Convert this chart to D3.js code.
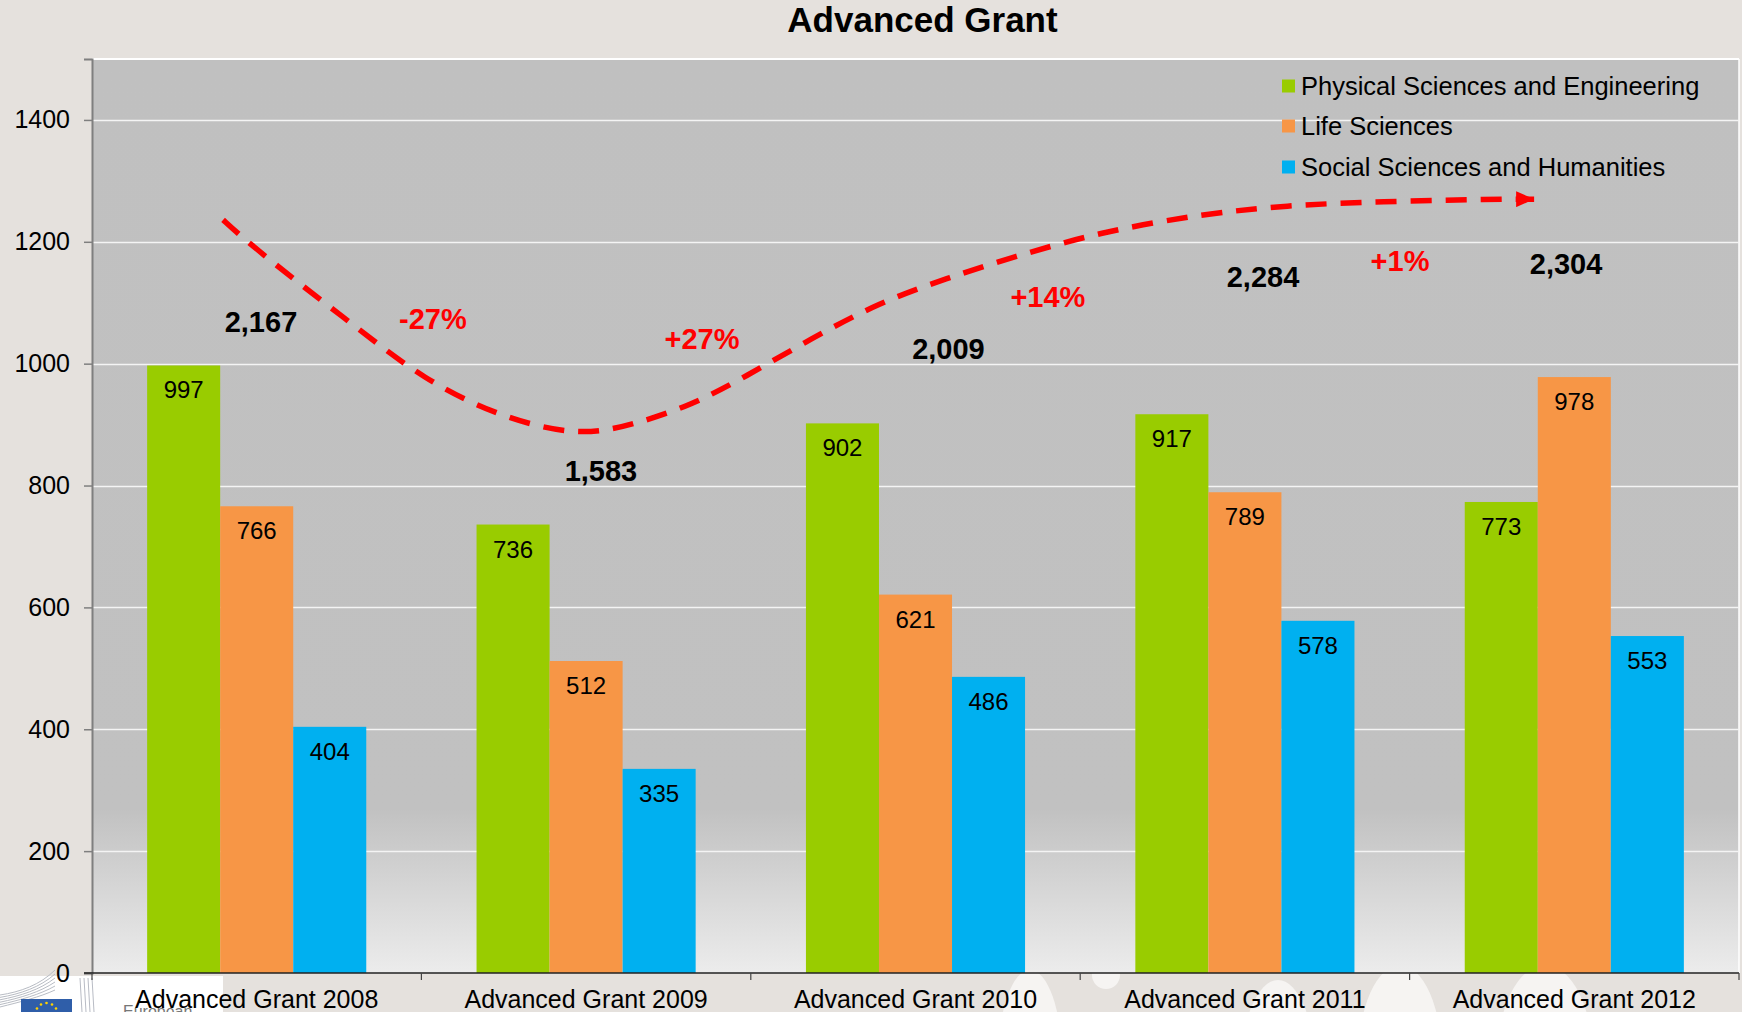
<!DOCTYPE html>
<html>
<head>
<meta charset="utf-8">
<script src="https://cdn.jsdelivr.net/npm/d3@7"></script>
<style>
  html, body { margin: 0; padding: 0; background: #e5e1dd; }
  svg { display: block; }
  text { font-family: "Liberation Sans", Arial, sans-serif; }
</style>
</head>
<body>
<script>
// ---------- data ----------
const categories = ["Advanced Grant 2008", "Advanced Grant 2009", "Advanced Grant 2010", "Advanced Grant 2011", "Advanced Grant 2012"];
const seriesNames = ["Physical Sciences and Engineering", "Life Sciences", "Social Sciences and Humanities"];
const physical = [997, 736, 902, 917, 773];
const life = [766, 512, 621, 789, 978];
const social = [404, 335, 486, 578, 553];
const totals = ["2,167", "1,583", "2,009", "2,284", "2,304"];
const changes = ["-27%", "+27%", "+14%", "+1%"];
const yTicks = [0, 200, 400, 600, 800, 1000, 1200, 1400];
const chartTitle = "Advanced Grant";

// annotation anchors in data units: [category index (fractional), value]
const totalAnchors = [[0.013, 1052], [1.045, 807], [2.10, 1008], [3.055, 1126], [3.975, 1147]];
const changeAnchors = [[0.535, 1057], [1.352, 1024], [2.402, 1093], [3.471, 1152]];
// hand-drawn trend arrow, in data units
const trendPoints = [
  [-0.102, 1236], [-0.05, 1210], [0.104, 1142], [0.314, 1055], [0.505, 975], [0.730, 914],
  [0.975, 880], [1.145, 900], [1.321, 932], [1.482, 978], [1.686, 1042],
  [1.889, 1100], [2.093, 1140], [2.296, 1175], [2.560, 1216], [2.864, 1245],
  [3.125, 1260], [3.410, 1266], [3.765, 1270], [3.85, 1270], [3.878, 1270]
];

// ---------- layout ----------
const W = 1742, H = 1012;
const mLeft = 92, mRight = 1739, mTop = 59, mBottom = 973;
const colors = ["#99cc00", "#f79646", "#00b0f0"];
const seriesValues = [physical, life, social];

const svg = d3.select("body").append("svg").attr("width", W).attr("height", H);
const defs = svg.append("defs");

const grad = defs.append("linearGradient").attr("id", "plotbg")
  .attr("x1", 0).attr("y1", 0).attr("x2", 0).attr("y2", 1);
grad.append("stop").attr("offset", 0).attr("stop-color", "#c0c0c0");
grad.append("stop").attr("offset", 0.82).attr("stop-color", "#c1c1c1");
grad.append("stop").attr("offset", 1).attr("stop-color", "#ececec");

svg.append("rect").attr("width", W).attr("height", H).attr("fill", "#e5e1dd");

// decorative light blobs below the axis
const blobs = svg.append("g").attr("fill", "#f6f4f2");
blobs.append("ellipse").attr("cx", 1030).attr("cy", 1060).attr("rx", 32).attr("ry", 90);
blobs.append("circle").attr("cx", 1106).attr("cy", 975).attr("r", 14);
blobs.append("ellipse").attr("cx", 1278).attr("cy", 1075).attr("rx", 38).attr("ry", 95);
blobs.append("ellipse").attr("cx", 1400).attr("cy", 1060).attr("rx", 42).attr("ry", 95);
blobs.append("ellipse").attr("cx", 1545).attr("cy", 1060).attr("rx", 48).attr("ry", 95);

// scales
const x0 = d3.scaleBand().domain(categories).range([mLeft, mRight]).paddingInner(0).paddingOuter(0);
const x1 = d3.scaleBand().domain(seriesNames).range([0, x0.bandwidth()]).paddingInner(0).paddingOuter(0.755);
const y = d3.scaleLinear().domain([0, 1500]).range([mBottom, mTop]);
const xi = i => x0(categories[0]) + x0.step() * (i + 0.5);

// plot area
svg.append("rect").attr("x", mLeft).attr("y", mTop).attr("width", mRight - mLeft).attr("height", mBottom - mTop)
  .attr("fill", "url(#plotbg)");
svg.append("line").attr("x1", mLeft).attr("x2", mRight).attr("y1", mTop).attr("y2", mTop)
  .attr("stroke", "#ffffff").attr("stroke-width", 2);
svg.append("line").attr("x1", mRight).attr("x2", mRight).attr("y1", mTop).attr("y2", mBottom)
  .attr("stroke", "#ffffff").attr("stroke-width", 1.5);

// gridlines
svg.append("g").selectAll("line").data(yTicks.filter(d => d > 0)).join("line")
  .attr("x1", mLeft).attr("x2", mRight)
  .attr("y1", d => Math.round(y(d)) + 0.5).attr("y2", d => Math.round(y(d)) + 0.5)
  .attr("stroke", "#f4f4f4").attr("stroke-width", 1.5);

// bars
const groups = svg.append("g").selectAll("g").data(categories).join("g")
  .attr("transform", d => `translate(${x0(d)},0)`);
groups.selectAll("rect").data((d, i) => seriesNames.map((s, k) => ({ s, k, v: seriesValues[k][i] })))
  .join("rect")
  .attr("x", d => x1(d.s)).attr("width", x1.bandwidth())
  .attr("y", d => y(d.v)).attr("height", d => y(0) - y(d.v))
  .attr("fill", d => colors[d.k]);
groups.selectAll("text").data((d, i) => seriesNames.map((s, k) => ({ s, k, v: seriesValues[k][i] })))
  .join("text")
  .attr("x", d => x1(d.s) + x1.bandwidth() / 2)
  .attr("y", d => y(d.v) + 33)
  .attr("text-anchor", "middle").attr("font-size", 24).attr("fill", "#000")
  .text(d => d.v);

// logo box (bottom-left)
const logo = svg.append("g");
logo.append("rect").attr("x", 0).attr("y", 976).attr("width", 223).attr("height", 40).attr("fill", "#ffffff");
const bl = logo.append("g").attr("fill", "none").attr("stroke", "#b8bcc4").attr("stroke-width", 1);
[0, 4, 8, 12, 16, 20].forEach(o => {
  bl.append("path").attr("d", `M0,${995 + o * 0.6} C20,${992 + o * 0.5} 40,${985 + o * 0.6} 55,${970 + o}`);
});
[80, 84, 88, 92].forEach(xx => bl.append("line").attr("x1", xx).attr("x2", xx + 2).attr("y1", 978).attr("y2", 1012));
logo.append("rect").attr("x", 21).attr("y", 999).attr("width", 51).attr("height", 20).attr("fill", "#2f5ea9");
d3.range(12).forEach(k => {
  const a = k / 12 * Math.PI * 2;
  logo.append("circle").attr("cx", 46.5 + 11 * Math.cos(a)).attr("cy", 1014 + 11 * Math.sin(a))
    .attr("r", 1.3).attr("fill", "#ffd200");
});
logo.append("text").attr("x", 123).attr("y", 1017).attr("font-size", 16).attr("fill", "#777")
  .text("European");

// y axis (drawn over the logo box, as in the original)
const yAxis = svg.append("g").attr("transform", `translate(${mLeft},0)`)
  .call(d3.axisLeft(y).tickValues(yTicks).tickSize(8).tickPadding(14).tickFormat(d3.format("d")));
yAxis.select(".domain").attr("stroke", "#7f7f7f").attr("stroke-width", 2);
yAxis.selectAll(".tick line").attr("stroke", "#7f7f7f").attr("stroke-width", 1.5);
yAxis.selectAll(".tick text").attr("font-size", 25).attr("fill", "#000")
  .attr("font-family", "Liberation Sans, Arial, sans-serif");

// x axis
const xAxis = svg.append("g").attr("transform", `translate(0,${mBottom})`);
xAxis.append("line").attr("x1", mLeft - 8).attr("x2", mRight).attr("y1", 0).attr("y2", 0)
  .attr("stroke", "#222").attr("stroke-width", 1.5);
xAxis.selectAll("line.tk").data(d3.range(categories.length + 1)).join("line").attr("class", "tk")
  .attr("x1", i => x0(categories[0]) + x0.step() * i).attr("x2", i => x0(categories[0]) + x0.step() * i)
  .attr("y1", 0).attr("y2", 7).attr("stroke", "#444").attr("stroke-width", 1.2);
xAxis.selectAll("text").data(categories).join("text")
  .attr("x", d => x0(d) + x0.bandwidth() / 2).attr("y", 35)
  .attr("text-anchor", "middle").attr("font-size", 25).attr("fill", "#000")
  .text(d => d);

// trend arrow
defs.append("marker").attr("id", "arrowhead").attr("viewBox", "0 0 18 16")
  .attr("refX", 18).attr("refY", 8).attr("markerWidth", 18).attr("markerHeight", 16)
  .attr("markerUnits", "userSpaceOnUse").attr("orient", "auto")
  .append("path").attr("d", "M0,0 L18,8 L0,16 Z").attr("fill", "#ff0000");
const trendLine = d3.line().x(d => xi(d[0])).y(d => y(d[1])).curve(d3.curveBasis);
svg.append("path").attr("d", trendLine(trendPoints))
  .attr("fill", "none").attr("stroke", "#ff0000").attr("stroke-width", 5.5)
  .attr("stroke-dasharray", "21 14").attr("marker-end", "url(#arrowhead)");

// totals
svg.append("g").selectAll("text").data(totals).join("text")
  .attr("x", (d, i) => xi(totalAnchors[i][0])).attr("y", (d, i) => y(totalAnchors[i][1]))
  .attr("text-anchor", "middle").attr("font-size", 29).attr("font-weight", "bold").attr("fill", "#000")
  .text(d => d);

// changes
svg.append("g").selectAll("text").data(changes).join("text")
  .attr("x", (d, i) => xi(changeAnchors[i][0])).attr("y", (d, i) => y(changeAnchors[i][1]))
  .attr("text-anchor", "middle").attr("font-size", 29).attr("font-weight", "bold").attr("fill", "#ff0000")
  .text(d => d);

// legend
const legend = svg.append("g").attr("transform", "translate(1282,0)");
const legendRows = [86, 126, 167];
seriesNames.forEach((s, k) => {
  legend.append("rect").attr("x", 0).attr("y", legendRows[k] - 6.5).attr("width", 13).attr("height", 13).attr("fill", colors[k]);
  legend.append("text").attr("x", 19).attr("y", legendRows[k] + 9).attr("font-size", 25.5).attr("fill", "#000").text(s);
});

// title
svg.append("text").attr("x", (mLeft + mRight) / 2 + 7).attr("y", 32)
  .attr("text-anchor", "middle").attr("font-size", 35).attr("font-weight", "bold").attr("fill", "#000")
  .text(chartTitle);
</script>
</body>
</html>
